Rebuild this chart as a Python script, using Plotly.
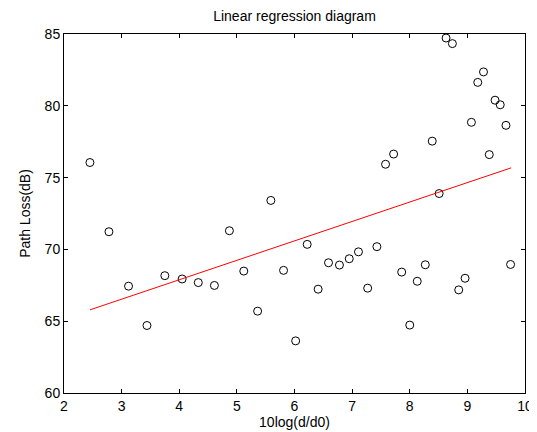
import plotly.graph_objects as go

# Measured points: 10log(d/d0) vs path loss (dB)
distance_db = [2.45, 2.78, 3.12, 3.44, 3.75, 4.05, 4.33, 4.61, 4.87, 5.12,
               5.36, 5.59, 5.81, 6.02, 6.22, 6.41, 6.59, 6.78, 6.95, 7.11,
               7.27, 7.43, 7.58, 7.72, 7.86, 8.00, 8.13, 8.27, 8.39, 8.51,
               8.63, 8.74, 8.85, 8.96, 9.07, 9.18, 9.28, 9.38, 9.48, 9.57,
               9.67, 9.75]
path_loss = [76.05, 71.23, 67.44, 64.70, 68.17, 67.94, 67.69, 67.49, 71.30, 68.49,
             65.70, 73.41, 68.54, 63.63, 70.35, 67.23, 69.07, 68.91, 69.35, 69.83,
             67.30, 70.19, 75.93, 76.64, 68.42, 64.73, 67.78, 68.93, 77.54, 73.89,
             84.72, 84.33, 67.18, 67.99, 78.85, 81.63, 82.36, 76.60, 80.39, 80.07,
             78.64, 68.95]

# Regression line end points
fit_x = [2.45, 9.76]
fit_y = [65.79, 75.68]

x_ticks = [2, 3, 4, 5, 6, 7, 8, 9, 10]
y_ticks = [60, 65, 70, 75, 80, 85]

FONT = "Liberation Sans, Arial, sans-serif"

fig = go.Figure()
fig.add_trace(go.Scatter(
    x=distance_db, y=path_loss, mode="markers",
    marker=dict(symbol="circle-open", size=8, color="black", line=dict(width=1, color="black")),
    showlegend=False, cliponaxis=False,
))
fig.add_trace(go.Scatter(
    x=fit_x, y=fit_y, mode="lines",
    line=dict(color="red", width=1),
    showlegend=False,
))

axis_common = dict(
    showgrid=False, zeroline=False,
    showline=True, linecolor="black", linewidth=1, mirror="ticks",
    ticks="inside", ticklen=4, tickwidth=1, tickcolor="black",
    tickfont=dict(family=FONT, size=14, color="black"),
)

fig.update_layout(
    width=537, height=432,
    margin=dict(l=56, r=14, t=26, b=43),
    paper_bgcolor="white", plot_bgcolor="white",
    font=dict(family=FONT, size=14, color="black"),
    title=dict(text="Linear regression diagram", x=0.5, xref="paper", xanchor="center",
               y=1 - 8 / 432, yref="container", yanchor="middle",
               font=dict(family=FONT, size=14, color="black")),
    xaxis=dict(range=[2, 10], tickvals=x_ticks, ticktext=[str(v) for v in x_ticks],
               title=dict(text="10log(d/d0)", standoff=4,
                          font=dict(family=FONT, size=14, color="black")),
               **axis_common),
    yaxis=dict(range=[60, 85], tickvals=y_ticks, ticktext=[str(v) for v in y_ticks],
               title=dict(text="Path Loss(dB)", standoff=10,
                          font=dict(family=FONT, size=14, color="black")),
               **axis_common),
)

fig.write_html("out.html")
